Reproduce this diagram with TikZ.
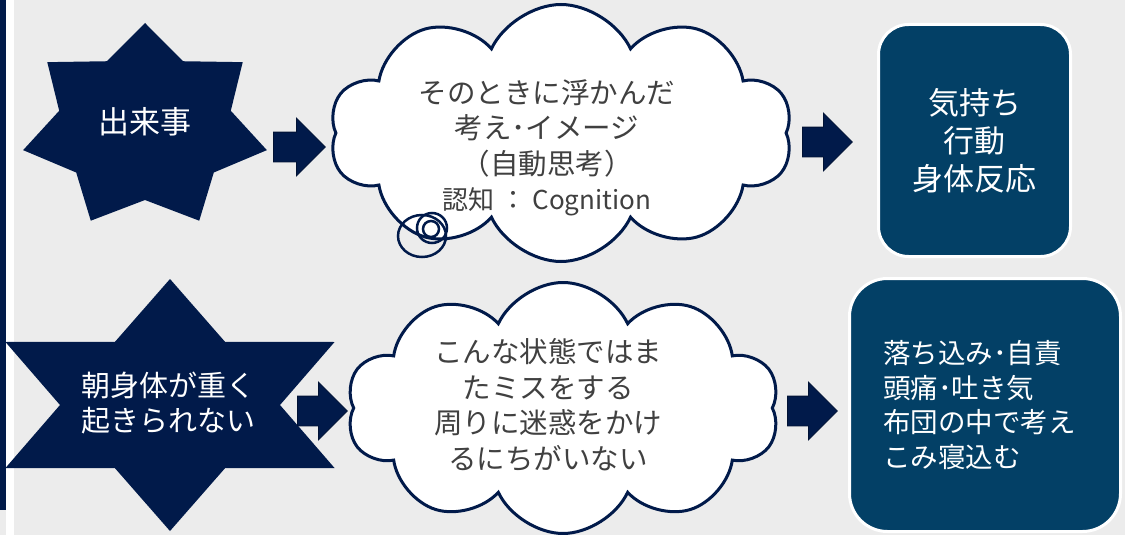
\documentclass[tikz,border=0pt]{standalone}
\usepackage{fontspec}
\setmainfont{Noto Sans CJK JP}
\usetikzlibrary{shapes,shapes.symbols,shapes.arrows,positioning}

\definecolor{navy}{RGB}{1,26,74}
\definecolor{deepblue}{RGB}{3,64,102}
\definecolor{slidegray}{RGB}{236,236,236}
\definecolor{thoughtgray}{RGB}{64,64,64}

\begin{document}
\begin{tikzpicture}[x=1pt, y=-1pt,
		startext/.style={text=white, align=center, font=\fontsize{29}{35}\selectfont},
		thought/.style={cloud, cloud puffs=10, cloud puff arc=130, draw=navy, line width=3pt, fill=white, inner sep=0pt},
		thoughttext/.style={text=thoughtgray, align=center, font=\fontsize{28.5}{35.5}\selectfont},
		resultbox/.style={draw=white, line width=3pt, fill=deepblue, rounded corners=30pt, text=white},
		blockarrow/.style={single arrow, draw=navy!70!black, fill=navy, line width=0.8pt, inner xsep=0pt, inner ysep=14.5pt, single arrow head extend=14pt, minimum height=50pt, anchor=tail}]
	\fill[slidegray] (0,0) rectangle (1125,535);
	\useasboundingbox (0,0) rectangle (1125,535);
	\fill[white] (6,0) rectangle (14,535);
	\fill[navy] (0,0) rectangle (6,510);
	
	% stars
	\fill[navy, shift={(145,127)}] (-90:125 and 104) \foreach \i in {0,...,6} {-- ({-90+\i*360/7}:125 and 104) -- ({-90+(\i+0.5)*360/7}:88 and 73)} -- cycle;
	\fill[navy, shift={(170,405)}] (-90:190 and 126) \foreach \i in {0,...,5} {-- ({-90+\i*60}:190 and 126) -- ({-60+\i*60}:110 and 73)} -- cycle;
	\node (event1) [startext, font=\fontsize{31}{35}\selectfont] at (145,122) {出来事};
	\node (event2) [startext] at (168,403) {朝身体が重く\\起きられない};
	
	% thoughts
	\node (thought1) [thought, minimum width=463pt, minimum height=257pt] at (561,133) {};
	\draw[navy, line width=2.5pt] (422,236) ellipse [x radius=24pt, y radius=21pt];
	\draw[navy, line width=2.5pt] (432,228) circle [radius=15pt];
	\draw[navy, line width=2.5pt] (431,229) circle [radius=8pt];
	\node (thought1text) [thoughttext] at (547,148) {そのときに浮かんだ\\考え･イメージ\\（自動思考）\\{\fontsize{26}{30}\selectfont 認知 ： Cognition}};
	\node (thought2) [thought, minimum width=433pt, minimum height=251pt] at (563,408) {};
	\node (thought2text) [thoughttext] at (548,405) {こんな状態ではま\\たミスをする\\周りに迷惑をかけ\\るにちがいない};
	
	% results
	\node (result1) [resultbox, minimum width=192pt, minimum height=232pt, align=center, font=\fontsize{31}{38}\selectfont] at (974.5,140.5) {気持ち\\行動\\身体反応};
	\node (result2) [resultbox, rounded corners=38pt, minimum width=271pt, minimum height=253pt, text width=204pt, inner xsep=33.5pt, align=left, font=\fontsize{27.5}{34.5}\selectfont] at (985,405) {落ち込み･自責\\頭痛･吐き気\\布団の中で考え\\こみ寝込む};
	
	% arrows
	\node (arrow1) [blockarrow, minimum height=52pt] at (273,147) {};
	\node (arrow2) [blockarrow] at (802,142) {};
	\node (arrow3) [blockarrow] at (297,411) {};
	\node (arrow4) [blockarrow] at (787,411) {};
\end{tikzpicture}
\end{document}
